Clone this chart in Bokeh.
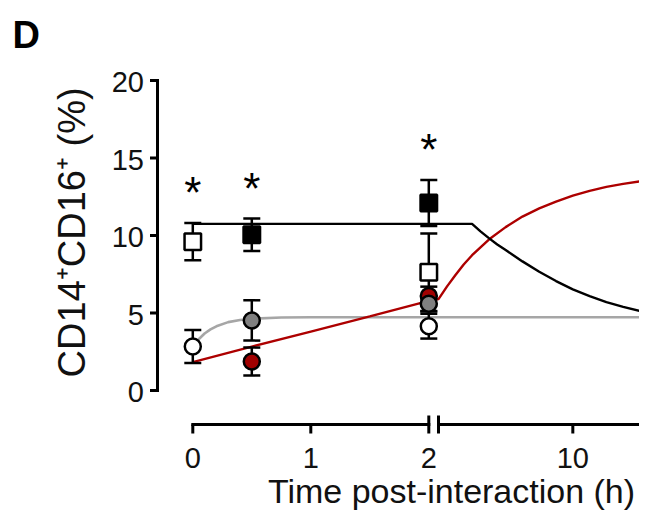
import math
from bokeh.plotting import figure
from bokeh.models import Range1d
from bokeh.core.properties import value
from bokeh.embed import file_html
from bokeh.resources import INLINE

# ---------------- data ----------------
# measured groups: time (h), mean (%), SEM (%)
open_sq_t = [0, 2]
open_sq_y = [9.6, 7.63]
open_sq_err = [1.2, 2.5]

black_sq_t = [0.5, 2]
black_sq_y = [10.05, 12.1]
black_sq_err = [1.05, 1.48]

open_ci_t = [0, 2]
open_ci_y = [2.84, 4.15]
open_ci_err = [1.07, 0.8]

gray_ci_t = [0.5, 2]
gray_ci_y = [4.52, 5.6]
gray_ci_err = [1.3, 0.5]

red_ci_t = [0.5, 2]
red_ci_y = [1.87, 6.1]
red_ci_err = [0.9, 0.6]

star_t = [0, 0.5, 2]

# model curves: early piece (0-2 h) and late piece (2 h onwards)
gray_early_t = [0, 0.05, 0.1, 0.15, 0.2, 0.3, 0.4, 0.5, 0.75, 1.0, 1.5, 2.0]
gray_early_y = [2.83, 3.31, 3.68, 3.94, 4.14, 4.41, 4.55, 4.63, 4.71, 4.73, 4.73, 4.73]
gray_late_t = [2, 15]
gray_late_y = [4.73, 4.73]

black_early_t = [0, 2]
black_early_y = [10.75, 10.75]
black_late_t = [2, 4, 4.5, 5, 5.5, 6, 7, 8, 9, 10, 11, 12, 13, 14, 15]
black_late_y = [10.75, 10.75, 10.27, 9.83, 9.42, 9.06, 8.33, 7.66, 7.06, 6.52,
                6.09, 5.70, 5.40, 5.13, 4.93]

red_early_t = [0, 0.5, 1, 1.5, 2]
red_early_y = [1.83, 2.83, 3.80, 4.78, 5.78]
red_late_t = [2, 2.5, 3, 3.5, 4, 5, 6, 7, 8, 9, 10, 11, 12, 13, 14, 15]
red_late_y = [5.9, 6.7, 7.43, 8.13, 8.73, 9.74, 10.54, 11.22, 11.75, 12.18,
              12.57, 12.88, 13.14, 13.33, 13.49, 13.62]

y_ticks = [0, 5, 10, 15, 20]
x_ticks_early = [0, 1]
x_ticks_late = [10]
x_labels_early = ["0", "1", "2"]
x_labels_late = ["10"]

y_title = "CD14\u207aCD16\u207a (%)"
x_title = "Time post-interaction (h)"
panel_label = "D"

# ---------------- layout helpers (picture pixels -> data units) ----------------
PX_U0, PX_PER_U = 192.3, 118.0   # x pixel of t = 0, px per hour (early segment)
PX_Y0, PX_PER_Y = 390.0, 15.5    # y pixel of 0 %, px per %


def ux(px):
    return (px - PX_U0) / PX_PER_U


def vy(py):
    return (PX_Y0 - py) / PX_PER_Y


LATE_START = ux(438.0)            # where 2 h sits on the late segment
LATE_SCALE = 16.79 / PX_PER_U     # axis units per hour on the late segment


def u_early(ts):
    return [float(t) for t in ts]


def u_late(ts):
    return [LATE_START + (t - 2.0) * LATE_SCALE for t in ts]


FONT = value("Liberation Sans")
W, H = 639, 511

p = figure(width=W, height=H,
           x_range=Range1d(ux(0), ux(W)), y_range=Range1d(vy(H), vy(0)),
           x_axis_type=None, y_axis_type=None,
           toolbar_location=None, output_backend="svg", min_border=0)
p.outline_line_color = None
p.background_fill_color = "white"
p.border_fill_color = "white"

# ---------------- axes (broken x axis) ----------------
AX_Y = vy(424)
TICK_END = vy(433)
BAR_TOP = vy(415)
YAX_X = ux(157)

p.segment(x0=[YAX_X], y0=[y_ticks[0]], x1=[YAX_X], y1=[y_ticks[-1]],
          line_color="black", line_width=3, line_cap="square")
p.segment(x0=[ux(149.5)] * len(y_ticks), y0=y_ticks, x1=[YAX_X] * len(y_ticks), y1=y_ticks,
          line_color="black", line_width=3)
p.text(x=[ux(143.5)] * len(y_ticks), y=[t - 0.1 for t in y_ticks],
       text=[str(t) for t in y_ticks], text_align="right", text_baseline="middle",
       text_font=FONT, text_font_size="29px", text_color="#111111")

# x axis: early piece 0-2 h, late piece from 2 h
p.segment(x0=[0.0, LATE_START], y0=[AX_Y, AX_Y], x1=[2.0, ux(700)], y1=[AX_Y, AX_Y],
          line_color="black", line_width=3, line_cap="square")
tick_u = u_early(x_ticks_early) + u_late(x_ticks_late)
p.segment(x0=tick_u, y0=[AX_Y] * len(tick_u), x1=tick_u, y1=[TICK_END] * len(tick_u),
          line_color="black", line_width=3)
p.segment(x0=[2.0, LATE_START], y0=[BAR_TOP] * 2, x1=[2.0, LATE_START], y1=[TICK_END] * 2,
          line_color="black", line_width=3)
lab_u = u_early([0, 1, 2]) + u_late([10])
p.text(x=lab_u, y=[vy(457.5)] * len(lab_u), text=x_labels_early + x_labels_late,
       text_align="center", text_baseline="middle",
       text_font=FONT, text_font_size="29px", text_color="#111111")

# titles
p.text(x=[ux(451)], y=[vy(490)], text=[x_title], text_align="center",
       text_baseline="middle", text_font=FONT, text_font_size="34px", text_color="#111111")
p.text(x=[ux(71)], y=[(y_ticks[0] + y_ticks[-1]) / 2 + 0.2], text=[y_title], angle=math.pi / 2,
       text_align="center", text_baseline="middle",
       text_font=FONT, text_font_size="38px", text_color="#111111")
p.text(x=[ux(12)], y=[vy(34)], text=[panel_label], text_align="left",
       text_baseline="middle", text_font=FONT, text_font_size="38px",
       text_font_style="bold", text_color="black")

# ---------------- model curves ----------------
p.line(u_early(gray_early_t) + u_late(gray_late_t), gray_early_y + gray_late_y,
       line_color="#a6a6a6", line_width=2.6)
p.line(u_early(red_early_t) + u_late(red_late_t), red_early_y + red_late_y,
       line_color="#ad0000", line_width=2.4)
p.line(u_early(black_early_t) + u_late(black_late_t), black_early_y + black_late_y,
       line_color="black", line_width=2.4)

# ---------------- error bars ----------------
groups = [
    (black_sq_t, black_sq_y, black_sq_err),
    (open_sq_t, open_sq_y, open_sq_err),
    (red_ci_t, red_ci_y, red_ci_err),
    (gray_ci_t, gray_ci_y, gray_ci_err),
    (open_ci_t, open_ci_y, open_ci_err),
]
for ts, ys, es in groups:
    lo = [y - e for y, e in zip(ys, es)]
    hi = [y + e for y, e in zip(ys, es)]
    u = u_early(ts)
    p.segment(x0=u, y0=lo, x1=u, y1=hi, line_color="black", line_width=2.5)
    p.scatter(u + u, lo + hi, marker="dash", size=17, line_color="black", line_width=2.5)

# ---------------- markers ----------------
p.scatter(u_early(black_sq_t), black_sq_y, marker="square", size=16.5, fill_color="black",
          line_color="black", line_width=2.5)
p.scatter(u_early(open_sq_t), open_sq_y, marker="square", size=16.5, fill_color="white",
          line_color="black", line_width=2.5)
p.scatter(u_early(red_ci_t), red_ci_y, marker="circle", size=16, fill_color="#a10000",
          line_color="black", line_width=2.5)
p.scatter(u_early(gray_ci_t), gray_ci_y, marker="circle", size=16, fill_color="#808080",
          line_color="black", line_width=2.5)
p.scatter(u_early(open_ci_t), open_ci_y, marker="circle", size=16, fill_color="white",
          line_color="black", line_width=2.5)

# ---------------- significance stars ----------------
STAR_PX = 44
star_y = []
for t in star_t:
    tops = [y + e for ts, ys, es in groups for tt, y, e in zip(ts, ys, es) if tt == t]
    star_y.append(max(tops) + 2.5 - 0.19 * STAR_PX / PX_PER_Y)
p.text(x=u_early(star_t), y=star_y, text=["*"] * len(star_t), text_align="center",
       text_baseline="middle", text_font=FONT, text_font_size=f"{STAR_PX}px", text_color="black")

open("out.html", "w").write(file_html(p, INLINE))
